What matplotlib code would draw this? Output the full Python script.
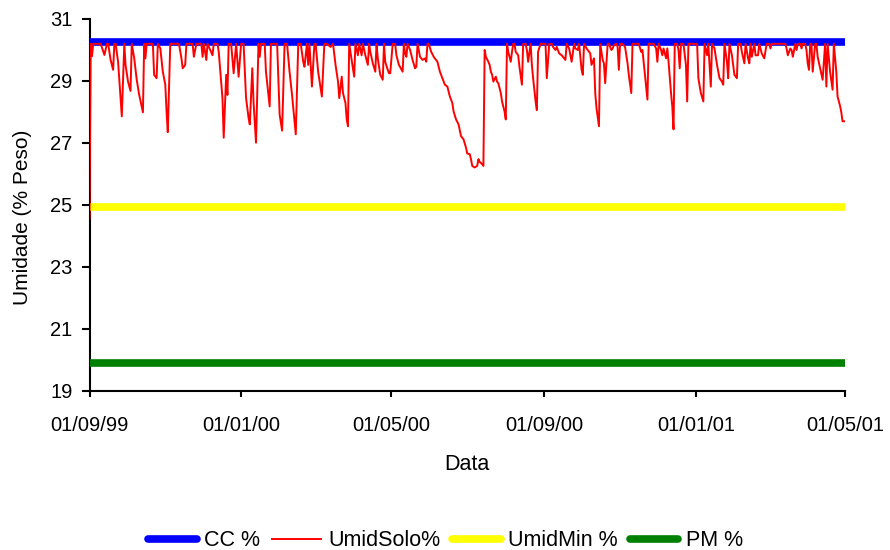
import datetime as dt
import matplotlib
matplotlib.use("Agg")
import matplotlib.pyplot as plt

# ---- data ----
inicio = dt.date(1999, 9, 1)
fim = dt.date(2001, 5, 1)
tick_datas = ["01/09/99", "01/01/00", "01/05/00", "01/09/00", "01/01/01", "01/05/01"]

cc = 30.25        # CC %
umid_min = 24.95  # UmidMin %
pm = 19.9         # PM %

# UmidSolo% : (days since 01/09/99, value)
dias = [0, 1, 2, 3, 9, 12, 14, 15, 17, 19, 20, 21, 23, 25, 26, 28, 29, 31, 33, 34,
        36, 38, 40, 43, 44, 45, 46, 51, 52, 54, 55, 57, 59, 61, 62, 63, 65, 72, 74, 75,
        77, 78, 83, 84, 86, 90, 91, 92, 94, 95, 99, 100, 103, 104, 107, 108, 110, 111, 112, 114,
        116, 118, 120, 122, 124, 126, 128, 129, 131, 132, 134, 136, 137, 138, 141, 142, 145, 146, 151, 153,
        155, 157, 159, 161, 163, 166, 168, 170, 172, 173, 175, 176, 177, 179, 181, 182, 184, 187, 189, 191,
        194, 196, 198, 200, 201, 203, 204, 206, 207, 208, 209, 210, 212, 213, 214, 216, 217, 219, 220, 222,
        224, 225, 226, 228, 230, 231, 232, 234, 236, 237, 238, 240, 241, 242, 244, 246, 247, 249, 252, 253,
        254, 255, 256, 258, 260, 262, 263, 264, 266, 268, 270, 271, 272, 273, 275, 277, 280, 282, 284, 286,
        288, 290, 292, 293, 295, 297, 299, 301, 303, 304, 306, 307, 308, 310, 312, 313, 314, 316, 317, 318,
        319, 321, 322, 323, 324, 325, 327, 328, 329, 331, 332, 333, 334, 335, 336, 337, 339, 340, 341, 342,
        343, 345, 346, 348, 349, 351, 352, 353, 355, 356, 357, 359, 360, 361, 363, 367, 368, 370, 372, 373,
        375, 376, 378, 380, 381, 383, 384, 386, 388, 390, 391, 393, 394, 396, 397, 398, 400, 403, 404, 406,
        407, 408, 410, 411, 413, 414, 415, 417, 418, 420, 421, 422, 424, 425, 426, 427, 429, 431, 433, 434,
        436, 437, 442, 444, 445, 447, 449, 450, 454, 456, 457, 458, 460, 461, 462, 464, 465, 466, 468, 469,
        470, 471, 473, 474, 475, 476, 478, 480, 481, 482, 489, 490, 492, 494, 495, 497, 498, 500, 501, 503,
        505, 506, 507, 509, 510, 511, 513, 514, 515, 517, 519, 521, 522, 524, 525, 527, 528, 530, 531, 532,
        533, 535, 536, 538, 539, 541, 543, 545, 547, 548, 549, 560, 561, 562, 564, 565, 566, 568, 569, 570,
        572, 573, 574, 576, 577, 578, 579, 580, 581, 582, 584, 585, 586, 588, 590, 592, 593, 594, 596, 598,
        599, 601, 602, 604, 605, 606, 608]
umid_solo = [24.57, 30.2, 29.8, 30.2, 30.2, 29.84, 30.2, 30.2, 29.68, 29.36, 30.2, 30.2, 29.62, 28.45, 27.86, 30.2, 29.52, 28.98, 28.68, 30.2,
             29.73, 29.04, 28.55, 27.99, 30.2, 29.73, 30.2, 30.2, 29.2, 29.09, 30.2, 30.05, 29.3, 28.88, 28.02, 27.35, 30.2, 30.2, 29.73, 29.41,
             29.52, 30.2, 30.2, 29.78, 30.2, 30.2, 29.78, 30.2, 29.68, 30.2, 29.83, 30.2, 30.2, 29.94, 28.45, 27.17, 29.2, 28.55, 30.2, 30.2,
             29.25, 30.2, 29.14, 30.2, 30.2, 28.45, 27.81, 27.6, 29.41, 28.34, 27.01, 30.2, 29.78, 30.2, 30.2, 29.3, 28.18, 30.2, 30.2, 27.92,
             27.4, 30.2, 30.2, 29.3, 28.55, 27.28, 30.2, 30.2, 29.62, 29.46, 30.2, 29.52, 30.2, 28.82, 30.2, 30.2, 29.3, 28.5, 30.2, 30.2,
             30.1, 30.2, 29.52, 28.98, 28.45, 29.14, 28.61, 28.29, 27.76, 27.54, 30.2, 29.94, 29.41, 29.14, 30.2, 29.83, 30.2, 29.83, 30.2, 29.83,
             29.52, 30.2, 29.94, 29.57, 29.3, 30.2, 29.73, 29.2, 29.04, 30.2, 29.62, 29.36, 29.25, 29.25, 30.2, 30.2, 29.83, 29.52, 29.3, 30.2,
             29.89, 29.78, 30.2, 30.0, 29.68, 29.41, 29.46, 30.2, 29.78, 29.68, 29.73, 29.62, 30.2, 30.2, 29.94, 29.78, 29.62, 29.3, 29.09, 28.88,
             28.82, 28.5, 28.29, 28.02, 27.76, 27.6, 27.22, 27.12, 26.85, 26.66, 26.64, 26.48, 26.26, 26.21, 26.26, 26.48, 26.39, 26.32, 26.26, 30.0,
             29.78, 29.62, 29.52, 29.3, 29.2, 28.98, 29.14, 28.98, 28.93, 28.61, 28.34, 28.18, 28.02, 27.76, 30.2, 29.94, 29.62, 29.94, 30.2, 30.2,
             29.94, 29.83, 29.46, 28.88, 30.2, 30.2, 30.0, 29.62, 30.2, 29.52, 29.09, 28.34, 28.06, 29.94, 30.2, 30.2, 29.09, 30.2, 30.2, 30.1,
             30.0, 30.1, 29.89, 29.83, 29.78, 29.68, 30.2, 30.05, 29.62, 30.2, 30.05, 30.0, 30.2, 29.36, 29.2, 30.2, 30.05, 29.89, 29.52, 29.73,
             28.61, 28.13, 27.54, 30.2, 29.68, 29.57, 28.93, 30.2, 30.2, 30.0, 30.05, 30.16, 30.2, 30.1, 29.36, 30.2, 30.2, 30.1, 29.57, 29.2,
             28.61, 30.2, 30.2, 29.94, 30.0, 29.2, 28.4, 30.2, 30.2, 30.05, 29.62, 30.2, 30.0, 29.83, 30.05, 29.73, 30.05, 29.62, 28.61, 28.18,
             27.44, 30.2, 30.2, 30.0, 29.41, 30.2, 30.2, 29.52, 28.34, 30.2, 30.2, 29.09, 28.61, 28.34, 30.2, 29.83, 30.2, 28.82, 30.2, 30.05,
             29.52, 29.3, 29.09, 28.98, 28.88, 30.2, 29.62, 29.09, 30.2, 29.83, 29.2, 29.09, 30.2, 30.2, 29.94, 29.57, 30.2, 29.73, 29.57, 30.2,
             29.78, 30.2, 29.83, 29.83, 30.2, 29.89, 29.73, 30.2, 30.2, 30.05, 30.2, 30.2, 30.05, 29.83, 30.05, 30.0, 29.78, 30.2, 30.0, 30.2,
             30.2, 30.05, 30.2, 30.2, 30.0, 29.57, 29.36, 30.2, 30.2, 29.3, 30.2, 30.2, 29.78, 29.41, 29.04, 30.2, 28.82, 30.2, 29.3, 28.72,
             30.2, 29.3, 28.5, 28.2, 28.0, 27.7, 27.7]

# ---- plot ----
plt.rcParams['font.family'] = ['Liberation Sans', 'DejaVu Sans']
FS_TICK = 14.5
FS_LAB = 15
FS_LEG = 15.5

L, R, T, B = 89.5, 845, 19, 391
fig = plt.figure(figsize=(8.9, 5.5), dpi=100)
ax = fig.add_axes([L/890, 1 - B/550, (R - L)/890, (B - T)/550])

datas = [inicio + dt.timedelta(days=d) for d in dias]
extremos = [inicio, fim]

ax.plot(extremos, [cc, cc], color='#0000FF', lw=5.5, solid_capstyle='round', label='CC %', zorder=2)
ax.plot(datas, umid_solo, color='#FF0000', lw=1.4, label='UmidSolo%', zorder=3)
ax.plot(extremos, [umid_min, umid_min], color='#FFFF00', lw=5.5, solid_capstyle='round', label='UmidMin %', zorder=2)
ax.plot(extremos, [pm, pm], color='#008000', lw=5.5, solid_capstyle='round', label='PM %', zorder=2)

ax.set_xlim(inicio, fim)
ax.set_ylim(19, 31)
ax.set_yticks(range(19, 32, 2))
tick_pos = [dt.datetime.strptime(t, "%d/%m/%y").date() for t in tick_datas]
ax.set_xticks(tick_pos)
ax.set_xticklabels(tick_datas)

for s in ['top', 'right']:
    ax.spines[s].set_visible(False)
for s in ['left', 'bottom']:
    ax.spines[s].set_linewidth(1.5)
    ax.spines[s].set_color('black')
    ax.spines[s].set_zorder(1)
ax.tick_params(axis='both', direction='out', width=1.5, labelsize=FS_TICK, colors='black')
ax.tick_params(axis='x', length=4.3, pad=13.8)
ax.tick_params(axis='y', length=5.8, pad=6.5)

ax.set_ylabel('Umidade (% Peso)', fontsize=FS_LAB)
ax.yaxis.set_label_coords((23 - L)/(R - L), (B - 217)/(B - T))
ax.yaxis.label.set_va('center')
ax.set_xlabel('Data', fontsize=FS_LEG)
ax.xaxis.set_label_coords(0.5, -(464 - B)/(B - T))
ax.xaxis.label.set_va('center')

fig.legend(loc='center', bbox_to_anchor=(445.5/890, 1 - 541/550), ncol=4, frameon=False,
           fontsize=FS_LEG, handlelength=2.25, handletextpad=0.35, columnspacing=0.55,
           borderaxespad=0, borderpad=0)

fig.savefig('out.png', dpi=100)
